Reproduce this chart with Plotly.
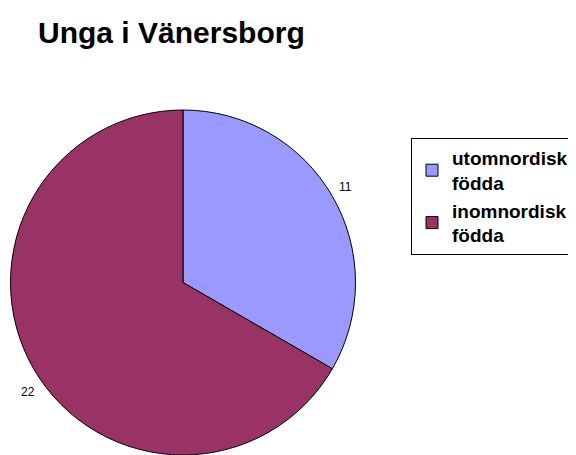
import plotly.graph_objects as go

categories = ["utomnordisk<br>födda", "inomnordisk<br>födda"]
values = [11, 22]
colors = ["#9999FF", "#993366"]

# the page body has an 8px margin, so the figure is sized to fill the rest
OFF = 8
W, H = 576 - OFF, 455 - OFF
FONT = "Liberation Sans, Arial, sans-serif"


def px_x(x):
    return (x - OFF) / W


def px_y(y):
    return 1 - (y - OFF) / H


fig = go.Figure(go.Pie(
    labels=[f"<b>{c}</b>" for c in categories],
    values=values,
    sort=False,
    direction="clockwise",
    rotation=0,
    marker=dict(colors=colors, line=dict(color="black", width=1)),
    textinfo="none",
    domain=dict(x=[px_x(10), px_x(356)], y=[max(0, px_y(456)), px_y(110)]),
    showlegend=True,
    hoverinfo="label+value",
))

# value labels placed outside the slices, as in the original chart
label_pos = [(345, 187), (28, 392)]
for v, (sx, sy) in zip(values, label_pos):
    fig.add_annotation(
        text=str(v), x=px_x(sx), y=px_y(sy), xref="paper", yref="paper",
        showarrow=False, xanchor="center", yanchor="middle",
        font=dict(family=FONT, size=12, color="black"),
    )

fig.update_layout(
    width=W, height=H,
    margin=dict(l=0, r=0, t=0, b=0, autoexpand=False),
    paper_bgcolor="white",
    plot_bgcolor="white",
    title=dict(
        text="<b>Unga i Vänersborg</b>",
        x=px_x(38), xanchor="left", xref="paper",
        y=px_y(32), yanchor="middle", yref="paper",
        font=dict(family=FONT, size=30, color="black"),
    ),
    legend=dict(
        x=px_x(411), y=px_y(138), xanchor="left", yanchor="top",
        bordercolor="black", borderwidth=1, bgcolor="white",
        font=dict(family=FONT, size=19, color="black"),
        itemclick=False,
    ),
)

fig.write_html("out.html")
